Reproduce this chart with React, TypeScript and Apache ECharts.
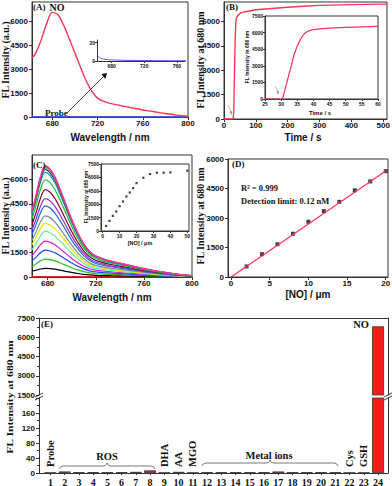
import React, { useEffect, useRef } from 'react';
import * as echarts from 'echarts';

// ---------- Panel A ----------
const aWave = [662, 665, 670, 675, 680, 685, 690, 695, 700, 705, 710, 715, 720, 725, 730, 740, 750, 760, 770, 780, 790, 800];
const aNO = [3700, 3950, 4800, 5850, 6550, 6400, 5750, 4900, 4000, 3100, 2250, 1600, 1180, 990, 870, 720, 580, 440, 330, 220, 120, 50];
const probeWave = [662, 665, 668, 672, 680, 690, 700, 720, 740, 760, 780, 800];
const probeVal = [6, 4, 2.5, 1.8, 1.2, 0.9, 0.7, 0.5, 0.4, 0.3, 0.3, 0.3];
const aXTicks = [680, 720, 760, 800];
const aYTicks = [0, 1500, 3000, 4500, 6000];
const aInXTicks = [680, 720, 760];
const aInYTicks = [0, 20];

// ---------- Panel B ----------
const bTime = [0, 29, 30.4, 31, 32, 33, 34, 35, 36, 37, 38, 40, 45, 50, 60, 80, 100, 150, 200, 250, 300, 400, 500, 512];
const bVal = [0, 0, 0, 650, 1750, 2850, 4000, 4800, 5400, 5850, 6080, 6270, 6400, 6500, 6580, 6650, 6720, 6800, 6880, 6940, 6990, 7040, 7070, 7070];
const bInTime = [25, 30, 30.4, 31, 32, 33, 34, 35, 36, 37, 38, 39, 40, 42, 45, 50, 55, 60];
const bInVal = [0, 0, 0, 650, 1750, 2850, 4000, 4800, 5400, 5850, 6080, 6200, 6270, 6340, 6400, 6470, 6520, 6570];
const bXTicks = [0, 100, 200, 300, 400, 500];
const bYTicks = [0, 1500, 3000, 4500, 6000];
const bInXTicks = [25, 30, 35, 40, 45, 50, 55, 60];
const bInYTicks = [0, 1500, 3000, 4500, 6000, 7500];

// ---------- Panel C ----------
const cWave = [667, 670, 674, 678, 682, 686, 690, 695, 700, 705, 710, 715, 720, 730, 740, 750, 760, 770, 785, 800];
const c01 = [370, 410, 490, 530, 515, 480, 425, 350, 280, 215, 165, 130, 105, 85, 70, 55, 42, 30, 17, 7];
const c02 = [660, 790, 990, 1100, 1070, 990, 880, 730, 570, 440, 330, 250, 210, 165, 140, 110, 80, 60, 33, 13];
const c03 = [990, 1190, 1490, 1650, 1600, 1490, 1320, 1090, 860, 660, 500, 380, 310, 250, 210, 165, 120, 90, 50, 20];
const c04 = [1320, 1580, 1980, 2200, 2130, 1980, 1760, 1450, 1140, 880, 660, 510, 420, 330, 275, 220, 165, 120, 66, 26];
const c05 = [1680, 2020, 2520, 2800, 2720, 2520, 2240, 1850, 1460, 1120, 840, 640, 530, 420, 350, 280, 210, 150, 84, 34];
const c06 = [1980, 2380, 2970, 3300, 3200, 2970, 2640, 2180, 1720, 1320, 990, 760, 630, 500, 410, 330, 250, 180, 100, 40];
const c07 = [2260, 2710, 3380, 3760, 3650, 3380, 3010, 2480, 1960, 1500, 1130, 860, 710, 560, 470, 380, 280, 210, 110, 45];
const c08 = [2620, 3150, 3930, 4370, 4240, 3930, 3500, 2880, 2270, 1750, 1310, 1010, 830, 660, 550, 440, 330, 240, 130, 52];
const c09 = [2890, 3470, 4340, 4820, 4680, 4340, 3860, 3180, 2510, 1930, 1450, 1110, 920, 720, 600, 480, 360, 270, 145, 58];
const c10 = [3220, 3870, 4830, 5370, 5210, 4830, 4300, 3540, 2790, 2150, 1610, 1240, 1020, 810, 670, 540, 400, 300, 160, 64];
const c11 = [3590, 4310, 5380, 5980, 5800, 5380, 4780, 3950, 3110, 2390, 1790, 1380, 1140, 900, 750, 600, 450, 330, 180, 72];
const c12 = [3860, 4630, 5790, 6430, 6240, 5790, 5140, 4240, 3340, 2570, 1930, 1480, 1220, 960, 800, 640, 480, 350, 190, 77];
const c13 = [3970, 4760, 5950, 6610, 6410, 5950, 5290, 4360, 3440, 2640, 1980, 1520, 1260, 990, 830, 660, 500, 360, 200, 79];
const c14 = [4020, 4820, 6030, 6700, 6500, 6030, 5360, 4420, 3480, 2680, 2010, 1540, 1270, 1000, 840, 670, 500, 370, 200, 80];
const c15 = [4070, 4880, 6100, 6780, 6580, 6100, 5420, 4470, 3530, 2710, 2030, 1560, 1290, 1020, 850, 680, 510, 370, 200, 81];
const c16 = [4110, 4930, 6170, 6850, 6640, 6170, 5480, 4520, 3560, 2740, 2060, 1580, 1300, 1030, 860, 690, 510, 380, 210, 82];
const cProbeWave = [667, 800];
const cProbeVal = [0, 0];
const cSpectra = [c01, c02, c03, c04, c05, c06, c07, c08, c09, c10, c11, c12, c13, c14, c15, c16];
const cColors = ['#000000', '#22c022', '#2244ff', '#d020d0', '#66ee88', '#e6e600', '#6f8fa0', '#2266dd', '#8833cc', '#800030', '#22bb22', '#2299cc', '#222288', '#33cc33', '#ff2222', '#ff33bb'];
const cXTicks = [680, 720, 760, 800];
const cYTicks = [0, 1500, 3000, 4500, 6000];
const cInX = [2, 4, 6, 8, 10, 12, 14, 16, 18, 20, 24, 28, 32, 36, 40, 50];
const cInY = [560, 1130, 1690, 2180, 2780, 3300, 3860, 4310, 4800, 5360, 5960, 6380, 6520, 6520, 6560, 6750];
const cInXTicks = [0, 10, 20, 30, 40, 50];
const cInYTicks = [0, 1500, 3000, 4500, 6000, 7500];

// ---------- Panel D ----------
const dX = [2, 4, 6, 8, 10, 12, 14, 16, 18, 20];
const dY = [535, 1160, 1665, 2200, 2810, 3350, 3820, 4410, 4860, 5380];
const dFitX = [0, 20];
const dFitY = [0, 5390];
const dXTicks = [0, 5, 10, 15, 20];
const dYTicks = [0, 1500, 3000, 4500, 6000];

// ---------- Panel E ----------
const eCats = [1, 2, 3, 4, 5, 6, 7, 8, 9, 10, 11, 12, 13, 14, 15, 16, 17, 18, 19, 20, 21, 22, 23, 24];
const eVals = [1, 4, 2, 2, 2, 2, 3, 7, 1, 3, 1, 2, 2, 2, 2, 2, 4, 2, 2, 2, 2, 1, 1, 6850];

const SANS = '"Liberation Sans", Arial, sans-serif';
const SERIF = '"Liberation Serif", "Times New Roman", serif';
const AX = '#333';
const RED = '#ff3355';
const plain = (v: number) => String(v);

function valAxis(gridIndex: number, min: number, max: number, ticks: number[], o: any = {}) {
  const fontSize = o.fontSize ?? 8;
  return {
    type: 'value',
    gridIndex,
    min,
    max,
    position: o.position,
    axisLine: { show: true, onZero: false, lineStyle: { color: AX, width: 1 } },
    axisTick: { show: true, length: o.tickLen ?? 3, customValues: ticks, lineStyle: { color: AX } },
    axisLabel: {
      show: true,
      customValues: ticks,
      formatter: plain,
      fontSize,
      fontWeight: 'bold',
      fontFamily: o.font ?? SANS,
      color: '#111',
      margin: o.margin ?? 3,
    },
    splitLine: { show: false },
  };
}

function grid(left: number, top: number, width: number, height: number, border = true) {
  return {
    left, top, width, height,
    show: border,
    borderColor: AX,
    borderWidth: 1,
    backgroundColor: 'transparent',
    containLabel: false,
    outerBoundsMode: 'none',
  };
}

function zip(xs: number[], ys: number[]) {
  return xs.map((x, i) => [x, ys[i]]);
}

function txt(x: number, y: number, text: string, font: string, o: any = {}) {
  return {
    type: 'text',
    x, y,
    rotation: o.rotation ?? 0,
    scaleX: o.scaleX ?? 1,
    z: 100,
    style: {
      text,
      font,
      fill: o.fill ?? '#111',
      textAlign: o.align ?? 'left',
      textVerticalAlign: 'middle',
    },
  };
}

function line(x1: number, y1: number, x2: number, y2: number, stroke = '#111', lw = 0.8) {
  return { type: 'line', z: 100, shape: { x1, y1, x2, y2 }, style: { stroke, lineWidth: lw } };
}

function brace(x1: number, x2: number, y: number) {
  const m = (x1 + x2) / 2;
  return {
    type: 'polyline',
    z: 100,
    shape: {
      points: [
        [x1, y + 3], [x1 + 1, y + 1.2], [x1 + 3, y + 0.2], [x1 + 5, y],
        [m - 4, y], [m - 2, y - 0.4], [m - 0.7, y - 1.5], [m, y - 3],
        [m + 0.7, y - 1.5], [m + 2, y - 0.4], [m + 4, y],
        [x2 - 5, y], [x2 - 3, y + 0.2], [x2 - 1, y + 1.2], [x2, y + 3],
      ],
    },
    style: { stroke: '#555', lineWidth: 0.8, fill: null },
  };
}

function buildOption() {
  const S10 = `bold 10px ${SERIF}`;
  const rot = Math.PI / 2;

  const xAxis: any[] = [
    valAxis(0, 662, 800, aXTicks, { margin: 2 }),
    valAxis(1, 662, 770, aInXTicks, { fontSize: 5, margin: 2, tickLen: 2 }),
    valAxis(2, 0, 512, bXTicks, { margin: 2 }),
    valAxis(3, 25, 60, bInXTicks, { fontSize: 5, margin: 2, tickLen: 2 }),
    valAxis(4, 667, 800, cXTicks, { margin: 2 }),
    valAxis(5, -1, 51, cInXTicks, { fontSize: 5, margin: 2, tickLen: 2 }),
    valAxis(6, -0.4, 20.3, dXTicks, { margin: 2 }),
    {
      type: 'value', gridIndex: 7, min: 0.2, max: 24.7, position: 'top',
      axisLine: { show: true, onZero: false, lineStyle: { color: AX } },
      axisTick: { show: false }, axisLabel: { show: false }, splitLine: { show: false },
    },
    valAxis(8, 0.2, 24.7, eCats, { fontSize: 10, font: SERIF, margin: 4, tickLen: 2 }),
  ];

  const yAxis: any[] = [
    valAxis(0, 0, 7200, aYTicks, { margin: 4 }),
    valAxis(1, 0, 23, aInYTicks, { fontSize: 5, margin: 2, tickLen: 2 }),
    valAxis(2, 0, 7200, bYTicks, { margin: 4 }),
    valAxis(3, 0, 7500, bInYTicks, { fontSize: 5, margin: 2, tickLen: 2 }),
    valAxis(4, 0, 7500, cYTicks, { margin: 4 }),
    valAxis(5, 0, 7500, cInYTicks, { fontSize: 5, margin: 2, tickLen: 2 }),
    valAxis(6, 0, 6000, dYTicks, { margin: 4 }),
    {
      type: 'value', gridIndex: 7, min: 1500, max: 7500, interval: 1500,
      axisLine: { show: true, onZero: false, lineStyle: { color: AX } },
      axisTick: { show: true, length: 3, lineStyle: { color: AX } },
      minorTick: { show: true, splitNumber: 2, length: 2, lineStyle: { color: AX } },
      axisLabel: { formatter: plain, fontSize: 8, fontWeight: 'bold', fontFamily: SANS, color: '#111', margin: 4 },
      splitLine: { show: false }, minorSplitLine: { show: false },
    },
    {
      type: 'value', gridIndex: 8, min: 0, max: 200, interval: 40,
      axisLine: { show: true, onZero: false, lineStyle: { color: AX } },
      axisTick: { show: true, length: 3, lineStyle: { color: AX } },
      minorTick: { show: true, splitNumber: 2, length: 2, lineStyle: { color: AX } },
      axisLabel: { formatter: plain, fontSize: 8, fontWeight: 'bold', fontFamily: SANS, color: '#111', margin: 4, showMaxLabel: false },
      splitLine: { show: false }, minorSplitLine: { show: false },
    },
    {
      type: 'value', gridIndex: 7, min: 1500, max: 7500, position: 'right',
      axisLine: { show: true, onZero: false, lineStyle: { color: AX } },
      axisTick: { show: false }, axisLabel: { show: false }, splitLine: { show: false },
    },
    {
      type: 'value', gridIndex: 8, min: 0, max: 200, position: 'right',
      axisLine: { show: true, onZero: false, lineStyle: { color: AX } },
      axisTick: { show: false }, axisLabel: { show: false }, splitLine: { show: false },
    },
  ];

  const lineS = (xi: number, data: any[], color: string, width = 1.3, smooth: any = 0.35) => ({
    type: 'line', xAxisIndex: xi, yAxisIndex: xi, data, showSymbol: false, symbol: 'none',
    smooth, lineStyle: { color, width }, clip: true, silent: true,
  });

  const series: any[] = [
    lineS(0, zip(probeWave, probeVal), '#3344ff', 1.3, false),
    lineS(0, zip(aWave, aNO), RED, 1.4),
    lineS(1, zip(probeWave, probeVal), '#4a5ee8', 1, 0.3),
    lineS(2, zip(bTime, bVal), RED, 1.4, false),
    lineS(3, zip(bInTime, bInVal), RED, 1.2, false),
    lineS(4, zip(cProbeWave, cProbeVal), '#ff0000', 1.3, false),
    ...cSpectra.map((arr, i) => lineS(4, zip(cWave, arr), cColors[i], 1.2)),
    {
      type: 'scatter', xAxisIndex: 5, yAxisIndex: 5, data: zip(cInX, cInY),
      symbol: 'rect', symbolSize: 2.2, itemStyle: { color: '#111' }, silent: true,
    },
    lineS(6, zip(dFitX, dFitY), RED, 1.2, false),
    {
      type: 'scatter', xAxisIndex: 6, yAxisIndex: 6, data: zip(dX, dY),
      symbol: 'rect', symbolSize: 4, itemStyle: { color: '#111' }, silent: true,
    },
    {
      type: 'bar', xAxisIndex: 8, yAxisIndex: 8, data: zip(eCats, eVals), barWidth: 12, clip: true,
      itemStyle: { color: '#ff1a1a', borderColor: '#333', borderWidth: 0.8 }, silent: true,
    },
    {
      type: 'bar', xAxisIndex: 7, yAxisIndex: 7, data: [[eCats[23], eVals[23]]], barWidth: 12, clip: true,
      itemStyle: { color: '#ff1a1a', borderColor: '#333', borderWidth: 0.8 }, silent: true,
    },
  ];

  const graphic: any[] = [
    // Panel A
    txt(33, 7, '(A)', `bold 9px ${SERIF}`),
    txt(57, 7, 'NO', `bold 10px ${SERIF}`, { align: 'center' }),
    txt(45, 113, 'Probe', `bold 9px ${SERIF}`),
    line(67, 113, 105, 75, '#111', 0.8),
    { type: 'polygon', z: 100, shape: { points: [[107, 73], [105.4, 78.9], [101.4, 74.1]] }, style: { fill: '#111' } },
    txt(5, 60, 'FL Intensity (a.u.)', S10, { rotation: rot, align: 'center' }),
    txt(110, 137, 'Wavelength / nm', `bold 10px ${SANS}`, { align: 'center' }),
    // Panel B
    txt(226, 7, '(B)', `bold 9px ${SERIF}`),
    txt(200, 60, 'FL Intensity at 680 nm', S10, { rotation: rot, align: 'center' }),
    txt(303, 137, 'Time / s', `bold 10px ${SANS}`, { align: 'center' }),
    txt(320, 113, 'Time / s', `bold 6px ${SANS}`, { align: 'center' }),
    txt(247, 57, 'FL Intensity in 680 nm', `bold 5px ${SANS}`, { rotation: rot, align: 'center' }),
    line(228, 105, 231, 112, '#999', 0.7),
    { type: 'polygon', z: 100, shape: { points: [[232, 115], [231.9, 110.7], [229.1, 111.9]] }, style: { fill: '#999' } },
    line(275, 86, 278, 92, '#999', 0.7),
    { type: 'polygon', z: 100, shape: { points: [[279, 95], [278.7, 90.8], [276.1, 92]] }, style: { fill: '#999' } },
    // Panel C
    txt(33, 165, '(C)', `bold 9px ${SERIF}`),
    txt(5, 216, 'FL Intensity (a.u.)', S10, { rotation: rot, align: 'center' }),
    txt(112, 297, 'Wavelength / nm', `bold 10px ${SANS}`, { align: 'center' }),
    txt(140, 243, '[NO] / μm', `bold 5.5px ${SANS}`, { align: 'center' }),
    txt(86, 197, 'FL Intensity at 680 nm', `bold 5px ${SANS}`, { rotation: rot, align: 'center' }),
    // Panel D
    txt(232, 164, '(D)', `bold 9px ${SERIF}`),
    txt(200, 216, 'FL Intensity at 680 nm', S10, { rotation: rot, align: 'center' }),
    txt(308, 294, '[NO] / μm', `bold 10px ${SANS}`, { align: 'center' }),
    txt(241, 188, 'R² = 0.999', `bold 8.5px ${SERIF}`),
    txt(241, 201, 'Detection limit: 0.12 nM', `bold 8.5px ${SERIF}`),
    // Panel E
    txt(41, 324, '(E)', `bold 9px ${SERIF}`),
    txt(361, 324, 'NO', `bold 10.5px ${SERIF}`, { align: 'center' }),
    txt(10, 397, 'FL Intensity at 680 nm', `bold 9px ${SERIF}`, { rotation: rot, align: 'center', scaleX: 1.3 }),
    txt(50.4, 467, 'Probe', `bold 10.5px ${SERIF}`, { rotation: rot }),
    txt(164.4, 467, 'DHA', `bold 10.5px ${SERIF}`, { rotation: rot }),
    txt(178.6, 467, 'AA', `bold 10.5px ${SERIF}`, { rotation: rot }),
    txt(192.9, 467, 'MGO', `bold 10.5px ${SERIF}`, { rotation: rot }),
    txt(349.5, 467, 'Cys', `bold 10.5px ${SERIF}`, { rotation: rot }),
    txt(363.7, 467, 'GSH', `bold 10.5px ${SERIF}`, { rotation: rot }),
    txt(107, 456, 'ROS', `bold 10.5px ${SERIF}`, { align: 'center' }),
    txt(269, 455, 'Metal ions', `bold 10.5px ${SERIF}`, { align: 'center' }),
    brace(59, 155, 466),
    brace(202, 338, 463),
    line(35, 397, 43, 393, '#222', 0.9),
    line(35, 400, 43, 396, '#222', 0.9),
    line(384, 397, 392, 393, '#222', 0.9),
    line(384, 400, 392, 396, '#222', 0.9),
  ];

  return {
    animation: false,
    backgroundColor: '#fff',
    grid: [
      grid(32, 2, 156, 115),
      grid(97, 40, 88, 21, false),
      grid(224, 2, 163, 117),
      grid(265, 16, 113, 83),
      grid(32, 155, 160, 122),
      grid(101, 164, 88, 67),
      grid(228, 159, 160, 118),
      grid(39, 318, 349, 77, false),
      grid(39, 398, 349, 75, false),
    ],
    xAxis,
    yAxis,
    series,
    graphic: { elements: graphic },
  };
}

export default function App() {
  const ref = useRef<HTMLDivElement>(null);
  useEffect(() => {
    const chart = echarts.init(ref.current as HTMLDivElement, null, { renderer: 'svg' });
    chart.setOption(buildOption() as any);
    return () => chart.dispose();
  }, []);
  return (
    <div
      ref={ref}
      style={{ position: 'fixed', left: 0, top: 0, width: 392, height: 486, background: '#fff' }}
    />
  );
}
